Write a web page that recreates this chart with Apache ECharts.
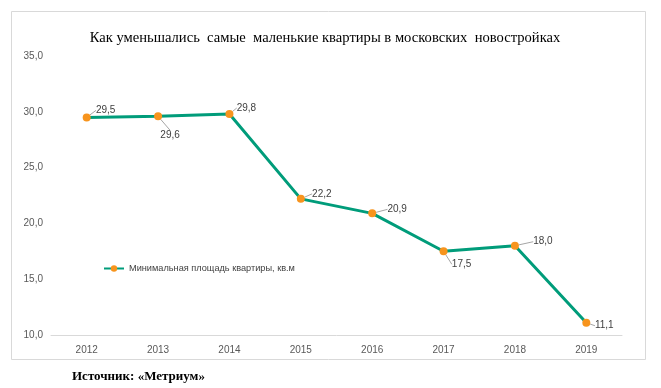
<!DOCTYPE html>
<html>
<head>
<meta charset="utf-8">
<script src="https://cdn.jsdelivr.net/npm/echarts@6/dist/echarts.min.js"></script>
<style>
html,body{margin:0;padding:0;background:#fff;}
#c{width:661px;height:388px;}
</style>
</head>
<body>
<div id="c"></div>
<script>
const categories = ['2012','2013','2014','2015','2016','2017','2018','2019'];
const values = [29.5, 29.6, 29.8, 22.2, 20.9, 17.5, 18.0, 11.1];
const yTicks = [10, 15, 20, 25, 30, 35];
const seriesName = 'Минимальная площадь квартиры, кв.м';
const titleText = 'Как уменьшались  самые  маленькие квартиры в московских  новостройках';
const sourceText = 'Источник: «Метриум»';

// label offsets (style)
const labelOffsets = [
  [19, 2], [12, 28], [17, 3], [21, 4], [25, 5], [18, 22], [28, 5], [18, 12]
];

const chart = echarts.init(document.getElementById('c'), null, {renderer: 'canvas'});
chart.setOption({
  animation: false,
  backgroundColor: '#fff',
  title: {
    text: titleText,
    left: 320, top: 26, textAlign: 'center',
    textStyle: {fontFamily: 'Liberation Serif', fontSize: 14.6, fontWeight: 'normal', color: '#000'}
  },
  graphic: [
    {type: 'rect', shape: {x: 11.5, y: 11.5, width: 634, height: 348}, style: {fill: 'none', stroke: '#d9d9d9', lineWidth: 1}, z: -1},
    {type: 'text', left: 72, top: 370, style: {text: sourceText, font: 'bold 13px "Liberation Serif"', fill: '#000'}}
  ],
  legend: {
    left: 98, top: 259,
    itemWidth: 20, itemHeight: 8, itemGap: 4,
    textStyle: {fontFamily: 'Liberation Sans', fontSize: 9.2, color: '#404040'},
    data: [{name: seriesName}]
  },
  grid: {left: 51, right: 39, top: 56, bottom: 53},
  xAxis: {
    type: 'category', data: categories, boundaryGap: true,
    axisLine: {lineStyle: {color: '#d9d9d9'}},
    axisTick: {show: false},
    axisLabel: {color: '#595959', fontFamily: 'Liberation Sans', fontSize: 10, margin: 10}
  },
  yAxis: {
    type: 'value', min: yTicks[0], max: yTicks[yTicks.length-1], interval: 5,
    axisLine: {show: false}, axisTick: {show: false},
    splitLine: {show: false},
    axisLabel: {color: '#595959', fontFamily: 'Liberation Sans', fontSize: 10, margin: 8,
      formatter: v => v.toFixed(1).replace('.', ',')}
  },
  series: [{
    name: seriesName, type: 'line', data: values,
    symbol: 'circle', symbolSize: 8,
    lineStyle: {color: '#009C7A', width: 3},
    itemStyle: {color: '#F7941D'},
    label: {
      show: true, position: 'top', distance: 0,
      color: '#404040', fontFamily: 'Liberation Sans', fontSize: 10,
      formatter: p => p.value.toFixed(1).replace('.', ',')
    },
    labelLine: {show: true, lineStyle: {color: '#a6a6a6', width: 1}},
    labelLayout: p => {
      const o = labelOffsets[p.dataIndex];
      return {dx: o[0], dy: o[1]};
    }
  }]
});
</script>
</body>
</html>
